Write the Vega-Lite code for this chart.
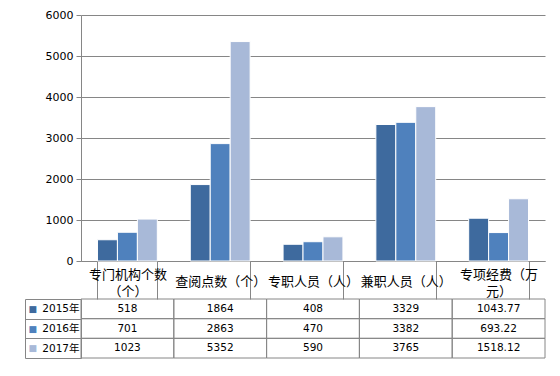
{
  "$schema": "https://vega.github.io/schema/vega-lite/v6.json",
  "background": "white",
  "padding": {"left": 24, "top": 9, "right": 16, "bottom": 17},
  "spacing": 38,
  "bounds": "flush",
  "config": {
    "view": {"stroke": null},
    "axis": {"domainColor": "#868686", "tickColor": "#868686", "gridColor": "#868686", "labelColor": "#000000", "gridOpacity": 1}
  },
  "datasets": {
    "d": [
      {"cat": "专门机构个数（个）", "year": "2015年", "value": 518},
      {"cat": "专门机构个数（个）", "year": "2016年", "value": 701},
      {"cat": "专门机构个数（个）", "year": "2017年", "value": 1023},
      {"cat": "查阅点数（个）", "year": "2015年", "value": 1864},
      {"cat": "查阅点数（个）", "year": "2016年", "value": 2863},
      {"cat": "查阅点数（个）", "year": "2017年", "value": 5352},
      {"cat": "专职人员（人）", "year": "2015年", "value": 408},
      {"cat": "专职人员（人）", "year": "2016年", "value": 470},
      {"cat": "专职人员（人）", "year": "2017年", "value": 590},
      {"cat": "兼职人员（人）", "year": "2015年", "value": 3329},
      {"cat": "兼职人员（人）", "year": "2016年", "value": 3382},
      {"cat": "兼职人员（人）", "year": "2017年", "value": 3765},
      {"cat": "专项经费（万元）", "year": "2015年", "value": 1043.77},
      {"cat": "专项经费（万元）", "year": "2016年", "value": 693.22},
      {"cat": "专项经费（万元）", "year": "2017年", "value": 1518.12}
    ]
  },
  "vconcat": [
    {
      "width": 464,
      "height": 246,
      "data": {"name": "d"},
      "mark": {"type": "bar", "stroke": "#FFFFFF", "strokeWidth": 1},
      "encoding": {
        "x": {
          "field": "cat", "type": "nominal", "sort": null,
          "scale": {"paddingInner": 0.355, "paddingOuter": 0.1775},
          "axis": {
            "title": null, "labelAngle": 0, "tickBand": "extent", "tickSize": 38,
            "labelPadding": {
              "condition": {"test": "datum.value == '专门机构个数（个）' || datum.value == '专项经费（万元）'", "value": -25},
              "value": -18
            },
            "labelBaseline": "middle", "labelLineHeight": 17,
            "labelFont": "Noto Sans CJK SC", "labelFontSize": 13, "labelLimit": 200,
            "labelOverlap": false,
            "labelExpr": "datum.label == '专门机构个数（个）' ? ['专门机构个数', '（个）'] : datum.label == '专项经费（万元）' ? ['专项经费（万', '元）'] : datum.label"
          }
        },
        "xOffset": {"field": "year", "type": "nominal", "scale": {"paddingInner": 0, "paddingOuter": 0}},
        "y": {
          "field": "value", "type": "quantitative",
          "scale": {"domain": [0, 6000], "nice": false},
          "axis": {
            "title": null, "values": [0, 1000, 2000, 3000, 4000, 5000, 6000], "format": "d",
            "grid": true, "tickSize": 5, "labelPadding": 3,
            "labelFont": "DejaVu Sans", "labelFontSize": 11
          }
        },
        "color": {
          "field": "year", "type": "nominal",
          "scale": {"domain": ["2015年", "2016年", "2017年"], "range": ["#3E6A9E", "#4F81BD", "#A8B9D8"]},
          "legend": null
        }
      }
    },
    {
      "width": 464,
      "height": 59,
      "data": {"name": "d"},
      "layer": [
        {
          "mark": {"type": "rect", "fillOpacity": 0, "stroke": "#868686", "strokeWidth": 1},
          "encoding": {
            "x": {"field": "cat", "type": "nominal", "sort": null, "scale": {"paddingInner": 0, "paddingOuter": 0}, "axis": null},
            "y": {
              "field": "year", "type": "nominal",
              "scale": {"paddingInner": 0, "paddingOuter": 0},
              "axis": {
                "orient": "left", "title": null, "tickBand": "extent", "tickSize": 56,
                "labelPadding": -54, "labelFont": "DejaVu Sans, Noto Sans CJK SC", "labelFontSize": 10.5,
                "labelBaseline": "middle", "domain": true
              }
            }
          }
        },
        {
          "mark": {"type": "text", "font": "DejaVu Sans", "fontSize": 10.5, "color": "#000000", "baseline": "middle"},
          "encoding": {
            "x": {"field": "cat", "type": "nominal", "sort": null, "axis": null},
            "y": {
              "field": "year", "type": "nominal",
              "axis": {
                "orient": "left", "offset": 56, "title": null, "ticks": false, "tickSize": 0,
                "labelExpr": "'■'", "labelAlign": "left", "labelPadding": -3, "labelFontSize": 9,
                "labelFont": "DejaVu Sans", "labelBaseline": "middle", "domain": true,
                "labelColor": {
                  "condition": [
                    {"test": "datum.value === '2015年'", "value": "#3E6A9E"},
                    {"test": "datum.value === '2016年'", "value": "#4F81BD"}
                  ],
                  "value": "#A8B9D8"
                }
              }
            },
            "text": {"field": "value", "type": "nominal"}
          }
        }
      ],
      "resolve": {"axis": {"y": "independent"}}
    }
  ]
}
